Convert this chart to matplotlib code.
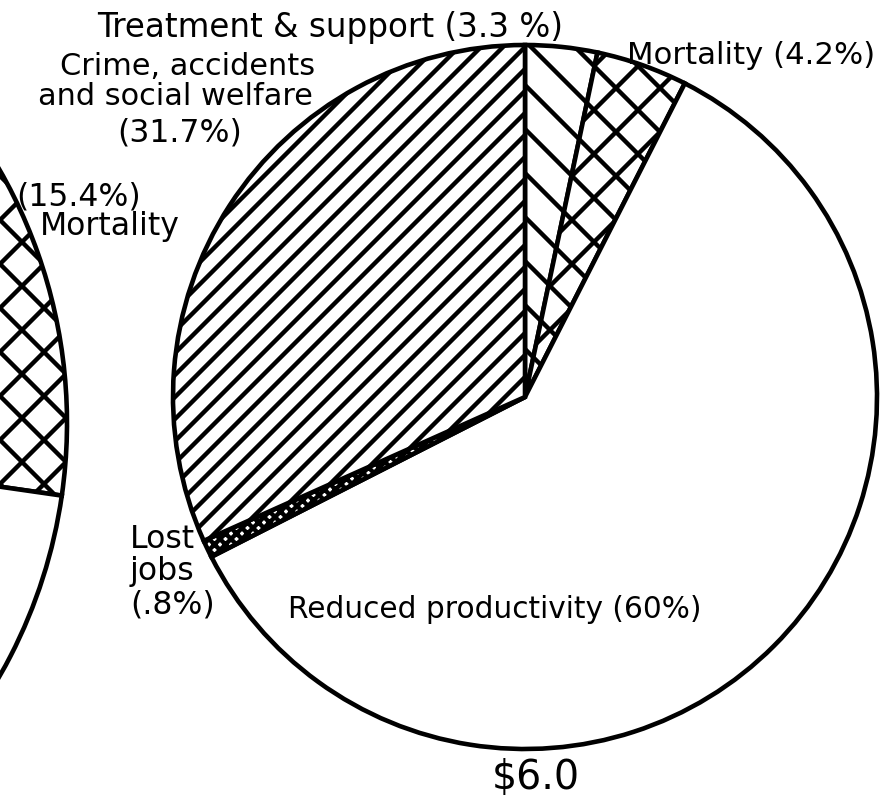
import matplotlib.pyplot as plt

# chart values
# right pie ($6.0), going clockwise from twelve o'clock
labels = ['Treatment & support', 'Mortality', 'Reduced productivity',
          'Lost jobs', 'Crime, accidents and social welfare']
shares = [3.3, 4.2, 60.0, 0.8, 31.7]
hatches = ['\\\\', 'xx', '', 'xxxxxxxx', '////']

# left pie, cut off by the page edge: only its mortality slice shows
left_labels = ['Mortality', 'rest of pie']
left_shares = [15.4, 84.6]
left_hatches = ['xx', '']

total_label = '$6.0'

DPI = 264          # hatch spacing follows dpi, so it sets the density
W, H = 890, 799

plt.rcParams['font.family'] = ['DejaVu Sans']
plt.rcParams['hatch.linewidth'] = 1.2
plt.rcParams['hatch.color'] = 'black'

fig = plt.figure(figsize=(W / DPI, H / DPI), dpi=DPI)
ax = fig.add_axes([0, 0, 1, 1])

wedge_style = dict(edgecolor='black', linewidth=1.25)

# left pie first, so the right one sits above it
lw, _ = ax.pie(left_shares, center=(-442, H - 423), radius=509,
               startangle=-8.2, counterclock=True,
               colors=['white'] * len(left_shares), wedgeprops=wedge_style)
for w, h in zip(lw, left_hatches):
    w.set_hatch(h)

rw, _ = ax.pie(shares, center=(525, H - 397), radius=352,
               startangle=90, counterclock=False,
               colors=['white'] * len(shares), wedgeprops=wedge_style)
for w, h in zip(rw, hatches):
    w.set_hatch(h)

ax.set_xlim(0, W)
ax.set_ylim(0, H)
ax.set_aspect('equal')
ax.axis('off')


def put(x, y, s, size=8.6, ha='left', **kw):
    # x, y in pixels from the top-left corner, y is the baseline
    fig.text(x / W, 1 - y / H, s, ha=ha, va='baseline', fontsize=size, **kw)


put(97, 37, f'{labels[0]} ({shares[0]} %)', size=8.9)
put(627, 64, f'{labels[1]} ({shares[1]}%)', size=8.4)
put(315, 75, 'Crime, accidents', ha='right', size=8.3)
put(313, 105, 'and social welfare', ha='right', size=8.3)
put(180, 142, f'({shares[4]}%)', ha='center')
put(16, 205, f'({left_shares[0]}%)')
put(40, 235, left_labels[0])
put(130, 548, 'Lost')
put(130, 580, 'jobs')
put(130, 613, f'(.{int(shares[3] * 10)}%)')
put(288, 618, f'{labels[2]} ({int(shares[2])}%)', size=8.1)
put(536, 789, total_label, size=10.8, ha='center')

fig.savefig('out.png', dpi=DPI, facecolor='white')
